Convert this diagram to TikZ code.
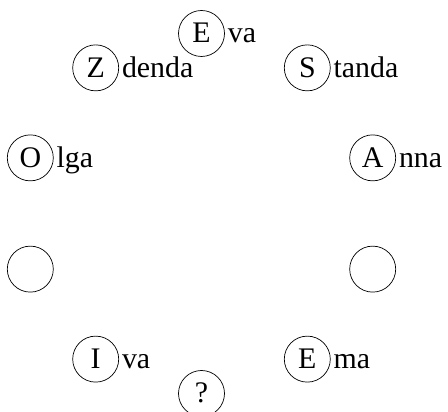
\documentclass[tikz,border=0pt]{standalone}
\usepackage{fontspec}
\setmainfont{Liberation Serif}
\usepackage{tikz}
\usetikzlibrary{positioning}

\begin{document}
\begin{tikzpicture}[
    ring/.style={draw,circle,thin,inner sep=0pt,minimum size=0.92cm,
                 font=\fontsize{17}{20}\selectfont,
                 text height=11.3pt,text depth=0.5pt},
    rest/.style={inner sep=1.5pt,anchor=west,
                 font=\fontsize{17}{20}\selectfont,
                 text height=11.3pt,text depth=0.5pt}]

    \useasboundingbox (-4.03,-3.97) rectangle (4.93,4.27);

    % Named seats
    \foreach \a/\ltr/\rest/\nm in {90/E/va/eva, 126/Z/denda/zdenda, 162/O/lga/olga,
                                  234/I/va/iva, 306/E/ma/ema, 18/A/nna/anna,
                                  54/S/tanda/standa}{
      \node[ring] (\nm) at (\a:3.6) {\ltr};
      \node[rest,right=0pt of \nm] (\nm-r) {\rest};
    }

    % Empty seats
    \node[ring] (left) at (198:3.6) {};
    \node[ring] (right) at (342:3.6) {};

    % Unknown
    \node[ring] (unknown) at (270:3.6) {?};
  \end{tikzpicture}
\end{document}
